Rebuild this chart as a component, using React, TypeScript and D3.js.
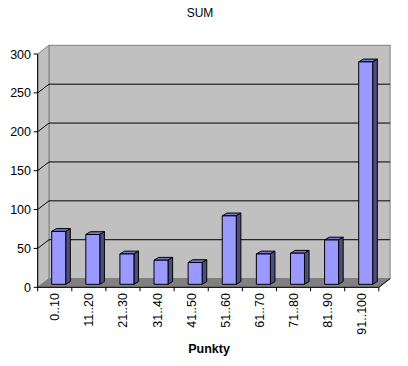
import React from "react";
import * as d3 from "d3";

const categories = ["0..10", "11..20", "21..30", "31..40", "41..50", "51..60", "61..70", "71..80", "81..90", "91..100"];
const values = [68, 64, 39, 31, 28, 88, 39, 40, 57, 286];
const yTicks = [0, 50, 100, 150, 200, 250, 300];
const title = "SUM";
const xTitle = "Punkty";

const W = 408;
const H = 366;
const FONT = "Arial, 'Liberation Sans', sans-serif";

export default function App() {
  const x0 = 37.7;
  const x1 = 378.8;
  const y = d3.scaleLinear().domain([0, 300]).range([287.3, 54]);
  const x = d3.scaleBand<string>().domain(categories).range([x0, x1]).padding(0);
  // wall depth
  const wdx = 11.3;
  const wdy = -8.7;
  // bar front-face depth offset and bar depth
  const bdx0 = 0;
  const bdy0 = -3;
  const bdx = 4.6;
  const bdy = -2.8;
  const barOff = 14;
  const barW = 14;
  const yBase = y(0) + bdy0;

  const top = y(300);
  const bottom = y(0);

  return (
    <svg width={W} height={H} style={{ position: "absolute", left: 0, top: 0 }} fontFamily={FONT}>
      <rect x={0} y={0} width={W} height={H} fill="#fff" />
      {/* back wall */}
      <rect x={x0 + wdx} y={top + wdy} width={x1 - x0} height={bottom - top} fill="#C0C0C0" stroke="#808080" strokeWidth={1} />
      {/* left wall */}
      <polygon
        points={`${x0},${top} ${x0 + wdx},${top + wdy} ${x0 + wdx},${bottom + wdy} ${x0},${bottom}`}
        fill="#C0C0C0"
        stroke="#808080"
        strokeWidth={1}
      />
      {/* gridlines */}
      {yTicks.filter((t) => t > 0 && t < 300).map((t) => (
        <g key={t}>
          <line x1={x0 + wdx} x2={x1 + wdx} y1={y(t) + wdy} y2={y(t) + wdy} stroke="#000" strokeWidth={1} />
          <line x1={x0} x2={x0 + wdx} y1={y(t)} y2={y(t) + wdy} stroke="#000" strokeWidth={1} />
        </g>
      ))}
      {/* floor */}
      <polygon
        points={`${x0},${bottom} ${x1},${bottom} ${x1 + wdx},${bottom + wdy} ${x0 + wdx},${bottom + wdy}`}
        fill="#808080"
        stroke="#808080"
        strokeWidth={1}
      />
      <line x1={x1} x2={x1 + wdx} y1={bottom} y2={bottom + wdy} stroke="#000" strokeWidth={1} />
      {/* bars */}
      {values.map((v, i) => {
        const bx = (x(categories[i]) as number) + barOff + bdx0;
        const by = y(v) + bdy0;
        return (
          <g key={i} stroke="#000" strokeWidth={1} strokeLinejoin="round">
            <polygon points={`${bx},${by} ${bx + barW},${by} ${bx + barW + bdx},${by + bdy} ${bx + bdx},${by + bdy}`} fill="#7777CC" />
            <polygon points={`${bx + barW},${by} ${bx + barW + bdx},${by + bdy} ${bx + barW + bdx},${yBase + bdy} ${bx + barW},${yBase}`} fill="#4D4D80" />
            <rect x={bx} y={by} width={barW} height={yBase - by} fill="#9999FF" />
          </g>
        );
      })}
      {/* y axis */}
      <line x1={x0} x2={x0} y1={top} y2={bottom} stroke="#000" strokeWidth={1} />
      {yTicks.map((t) => (
        <g key={t}>
          <line x1={x0 - 4} x2={x0} y1={y(t)} y2={y(t)} stroke="#000" strokeWidth={1} />
          <text x={31} y={y(t)} dy="0.36em" textAnchor="end" fontSize={12.5} fill="#000">{t}</text>
        </g>
      ))}
      {/* x axis */}
      <line x1={x0} x2={x1} y1={bottom} y2={bottom} stroke="#000" strokeWidth={1} />
      {[...categories.map((c) => x(c) as number), x1].map((tx, i) => (
        <line key={i} x1={tx} x2={tx} y1={bottom} y2={bottom + 4} stroke="#000" strokeWidth={1} />
      ))}
      {categories.map((c) => {
        const cx = (x(c) as number) + x.bandwidth() / 2;
        return (
          <text key={c} transform={`translate(${cx},293) rotate(-90)`} dy="0.36em" textAnchor="end" fontSize={12.5} fill="#000">{c}</text>
        );
      })}
      <text x={200} y={17} textAnchor="middle" fontSize={12} fill="#000">{title}</text>
      <text x={209} y={352.7} textAnchor="middle" fontSize={12.5} fontWeight="bold" fill="#000">{xTitle}</text>
    </svg>
  );
}
